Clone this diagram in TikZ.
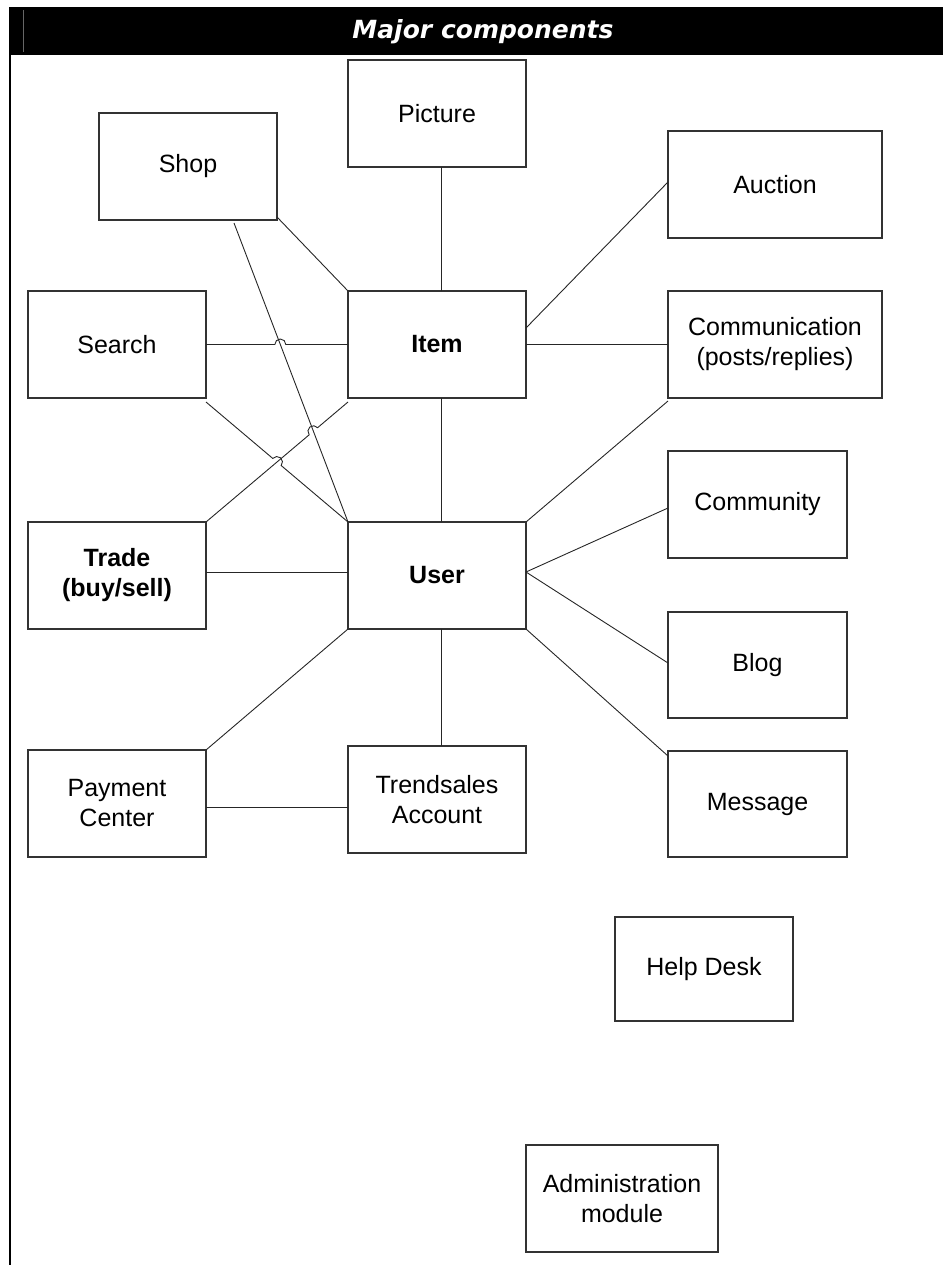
\documentclass[tikz,border=0pt]{standalone}
\usepackage{fontspec}
\setmainfont{Liberation Sans}
\newfontfamily\hdrfont{DejaVu Sans}
\usetikzlibrary{calc,intersections}
\begin{document}
\begin{tikzpicture}[x=1pt,y=-1pt,
  box/.style={draw=black!80, line width=1.2pt, anchor=north west, inner sep=0pt, outer sep=0pt,
    align=center, font=\fontsize{25}{30}\selectfont, minimum width=178pt, minimum height=107pt},
  wide/.style={minimum width=214pt},
  conn/.style={draw=black!85, line width=0.9pt}
]
\useasboundingbox (0,0) rectangle (943,1265);
% header
\fill[black] (9,7) rectangle (943,55);
\draw[black!60, line width=0.8pt] (23,10) -- (23,52);
\node[text=white, font=\hdrfont\bfseries\itshape\fontsize{25}{29}\selectfont] (title) at (483,32) {Major components};
\draw[line width=2.2pt] (10,55) -- (10,1265);

% boxes
\node[box] (picture) at (348,60) {Picture};
\node[box] (shop) at (99,113) {Shop};
\node[box,wide] (auction) at (668,131) {Auction};
\node[box] (search) at (28,291) {Search};
\node[box] (item) at (348,291) {\bfseries Item};
\node[box,wide] (comm) at (668,291) {Communication\\(posts/replies)};
\node[box,minimum width=179pt] (community) at (668,451) {Community};
\node[box] (trade) at (28,522) {\bfseries Trade\\\bfseries (buy/sell)};
\node[box] (user) at (348,522) {\bfseries User};
\node[box,minimum width=179pt,minimum height=106pt] (blog) at (668,612) {Blog};
\node[box] (payment) at (28,750) {Payment\\Center};
\node[box] (trendsales) at (348,746) {Trendsales\\Account};
\node[box,minimum width=179pt,minimum height=106pt] (message) at (668,751) {Message};
\node[box,minimum height=104pt] (helpdesk) at (615,917) {Help Desk};
\node[box,minimum width=192pt] (admin) at (526,1145) {Administration\\module};

% anchor points
\coordinate (shopA) at ([xshift=46pt,yshift=-3pt]shop.south);
\coordinate (searchB) at ([yshift=-4pt]search.south east);
\coordinate (itemB) at ([yshift=-4pt]item.south west);

% invisible paths for the crossings
\path[name path=shopuser] (shopA) -- (user.north west);
\path[name path=searchitem] (search.east) -- (item.west);
\path[name path=searchuser] (searchB) -- (user.north west);
\path[name path=tradeitem] (trade.north east) -- (itemB);
\path[name intersections={of=shopuser and searchitem, by=xa}];
\path[name intersections={of=searchuser and tradeitem, by=xb}];
\path[name intersections={of=shopuser and tradeitem, by=xc}];

% connectors
\draw[conn] ([xshift=4pt]picture.south) -- ([xshift=4pt]item.north);
\draw[conn] ([yshift=3pt]shop.south east) -- (item.north west);
\draw[conn] (shopA) -- (user.north west);
% search -- item with hop
\draw[conn] let \p1=($(item.west)-(search.east)$), \n1={atan2(\y1,\x1)} in
  (search.east) -- ($(xa)!5.5pt!(search.east)$) arc[start angle=\n1+180, end angle=\n1, radius=5.5pt] -- (item.west);
% search -- user with hop
\draw[conn] let \p1=($(user.north west)-(searchB)$), \n1={atan2(\y1,\x1)} in
  (searchB) -- ($(xb)!5.5pt!(searchB)$) arc[start angle=\n1+180, end angle=\n1, radius=5.5pt] -- (user.north west);
% trade -- item with hop
\draw[conn] let \p1=($(itemB)-(trade.north east)$), \n1={atan2(\y1,\x1)} in
  (trade.north east) -- ($(xc)!5.5pt!(trade.north east)$) arc[start angle=\n1+180, end angle=\n1, radius=5.5pt] -- (itemB);
\draw[conn] ([xshift=4pt]item.south) -- ([xshift=4pt]user.north);
\draw[conn] ([yshift=16.5pt]item.east) -- ([yshift=2.5pt]auction.west);
\draw[conn] (item.east) -- (comm.west);
\draw[conn] (user.north east) -- ([yshift=-3pt]comm.south west);
\draw[conn] ([yshift=3.5pt]user.east) -- ([yshift=-3.5pt]community.west);
\draw[conn] ([yshift=3.5pt]user.east) -- ([yshift=2pt]blog.west);
\draw[conn] (user.south east) -- ([yshift=-5pt]message.north west);
\draw[conn] ([yshift=3.5pt]trade.east) -- ([yshift=3.5pt]user.west);
\draw[conn] (user.south west) -- (payment.north east);
\draw[conn] ([xshift=4pt]user.south) -- ([xshift=4pt]trendsales.north);
\draw[conn] ([yshift=-3.5pt]payment.east) -- ([yshift=-7.5pt]trendsales.west);
\end{tikzpicture}
\end{document}
